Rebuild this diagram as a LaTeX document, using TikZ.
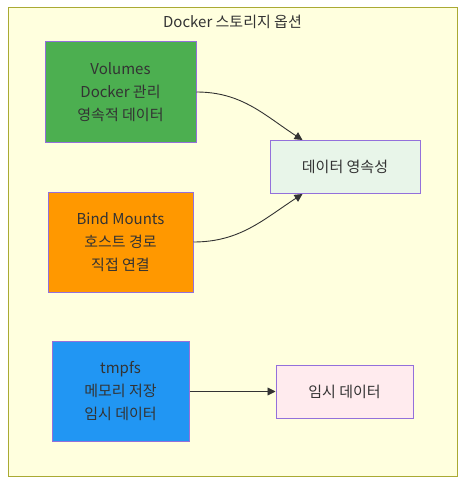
\documentclass[tikz,border=0pt]{standalone}
\usepackage{fontspec}
\setmainfont{Noto Sans CJK KR}
\usetikzlibrary{arrows.meta,positioning}
\definecolor{txtgray}{HTML}{333333}
\definecolor{boxline}{HTML}{9370DB}
\definecolor{frameline}{HTML}{AAAA33}
\definecolor{framefill}{HTML}{FFFFDE}
\definecolor{volgreen}{HTML}{4CAF50}
\definecolor{bindorange}{HTML}{FF9800}
\definecolor{tmpblue}{HTML}{2196F3}
\definecolor{keepfill}{HTML}{E8F5E9}
\definecolor{tempfill}{HTML}{FFEBEE}

\begin{document}
\begin{tikzpicture}[->, >={Triangle[length=8pt,width=8pt]}, x=1pt, y=1pt, node distance=150pt]
\tikzstyle{every node}=[text=txtgray, font=\fontsize{15}{23}\selectfont]
\tikzstyle{store}=[rectangle, draw=boxline, line width=1pt, align=center, inner sep=0pt, minimum height=100pt]
\tikzstyle{result}=[rectangle, draw=boxline, line width=1pt, align=center, inner sep=0pt, minimum height=53pt]
\tikzstyle{frame}=[rectangle, draw=frameline, fill=framefill, line width=1pt, minimum width=449pt, minimum height=468pt]
\tikzstyle{flow}=[draw=txtgray, line width=0.9pt]
\useasboundingbox (0,0) rectangle (473,-492);
\node[frame]    (opt)   at (232.5,-242)        {};
\node           (title) [below=4pt of opt.north] {Docker 스토리지 옵션};
\node[store, fill=volgreen, minimum width=151pt]   (vol)  at (120.5,-92)  {Volumes\\Docker 관리\\영속적 데이터};
\node[store, fill=bindorange, minimum width=145pt] (bind) [below of=vol]   {Bind Mounts\\호스트 경로\\직접 연결};
\node[store, fill=tmpblue, minimum width=137pt]    (tmp)  [below of=bind, node distance=149.5pt] {tmpfs\\메모리 저장\\임시 데이터};
\node[result, fill=keepfill, minimum width=150pt]  (keep) [right of=vol, node distance=224.5pt, yshift=-75pt] {데이터 영속성};
\node[result, fill=tempfill, minimum width=137pt]  (temp) [right of=tmp, node distance=224pt] {임시 데이터};
\coordinate (keepin1) at ([xshift=33pt]keep.north west);
\coordinate (keepin2) at ([xshift=33pt]keep.south west);
\path
(vol)   edge[flow, out=0, in=147]     (keepin1)
%
(bind)  edge[flow, out=0, in=-147]    (keepin2)
%
(tmp)   edge[flow]                    (temp);
\end{tikzpicture}
\end{document}
